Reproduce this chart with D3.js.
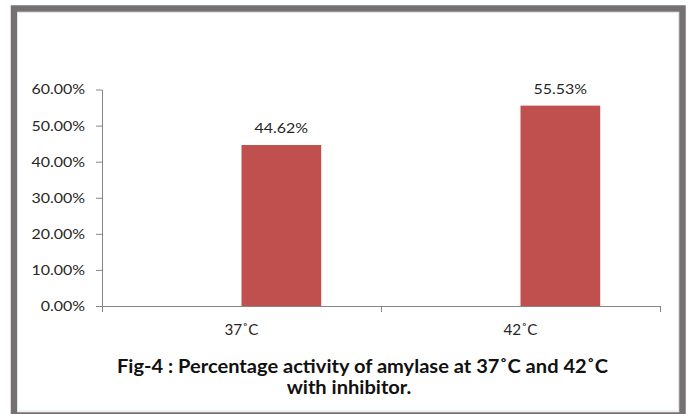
<!DOCTYPE html>
<html>
<head>
<meta charset="utf-8">
<script src="https://cdn.jsdelivr.net/npm/d3@7"></script>
<style>
  html, body { margin: 0; padding: 0; background: #fff; }
  svg { display: block; }
</style>
</head>
<body>
<svg id="chart" width="690" height="414"></svg>
<script>
// ---- data ----
const categories = ["37˚C", "42˚C"];
const seriesKeys = ["Series1", "Series2"]; // Series1 is empty in the original chart
const activity = [0.4462, 0.5553];          // Series2 values
const yTickValues = [0, 0.1, 0.2, 0.3, 0.4, 0.5, 0.6];
const titleLines = ["Fig-4 : Percentage activity of amylase at 37˚C and 42˚C", "with inhibitor."];

// ---- layout ----
const W = 690, H = 414;
const plot = { left: 102, right: 660, top: 89.5, bottom: 306 };
const FONT = "Lato, 'Open Sans', sans-serif";
const svg = d3.select("#chart");

// frame
svg.append("rect").attr("width", W).attr("height", H).attr("fill", "#fff");
svg.append("rect")
  .attr("x", 14).attr("y", 8.5).attr("width", 668.5).attr("height", 407)
  .attr("fill", "none").attr("stroke", "#767171").attr("stroke-width", 6.5);
svg.append("rect")
  .attr("x", 17.5).attr("y", 12.5).attr("width", 661).attr("height", 398.5)
  .attr("fill", "none").attr("stroke", "#dfe6ee").attr("stroke-width", 1);

// scales
const y = d3.scaleLinear().domain([0, 0.6]).range([plot.bottom, plot.top]);
const x0 = d3.scaleBand().domain(categories).range([plot.left, plot.right]).paddingInner(0).paddingOuter(0);
const x1 = d3.scaleBand().domain(seriesKeys).range([0, x0.bandwidth()]).paddingInner(0).paddingOuter(0.75);
const xEdge = d3.scaleLinear().domain([0, categories.length]).range([plot.left, plot.right]);

// helper: stretch text horizontally to mimic the original font metrics
function stretch(sel, k) {
  sel.each(function () {
    const len = this.getComputedTextLength();
    d3.select(this).attr("textLength", len * k).attr("lengthAdjust", "spacingAndGlyphs");
  });
}

// bars
svg.append("g").selectAll("rect")
  .data(categories.map((c, i) => ({ c, v: activity[i] })))
  .join("rect")
  .attr("x", d => x0(d.c) + x1("Series2"))
  .attr("width", x1.bandwidth())
  .attr("y", d => y(d.v))
  .attr("height", d => y(0) - y(d.v))
  .attr("fill", "#C0504D");

// y axis
const yAxis = svg.append("g")
  .attr("transform", `translate(${plot.left},0)`)
  .call(d3.axisLeft(y).tickValues(yTickValues).tickFormat(d3.format(".2%")).tickSize(6).tickSizeOuter(0).tickPadding(11));
yAxis.selectAll("path, line").attr("stroke", "#868686");
yAxis.selectAll("text")
  .attr("font-family", FONT).attr("font-size", 14).attr("fill", "#262626");
stretch(yAxis.selectAll("text"), 1.14);

// x axis
const xAxis = svg.append("g")
  .attr("transform", `translate(0,${plot.bottom})`)
  .call(d3.axisBottom(xEdge).tickValues(d3.range(categories.length + 1)).tickFormat("").tickSize(6).tickSizeOuter(0));
xAxis.selectAll("path, line").attr("stroke", "#868686");

// category labels
const catLabels = svg.append("g").selectAll("text")
  .data(categories).join("text")
  .attr("x", d => x0(d) + x0.bandwidth() / 2)
  .attr("y", plot.bottom + 29)
  .attr("text-anchor", "middle")
  .attr("font-family", FONT).attr("font-size", 14.5).attr("fill", "#262626")
  .text(d => d);
stretch(catLabels, 1.05);

// data labels
const dataLabels = svg.append("g").selectAll("text")
  .data(categories.map((c, i) => ({ c, v: activity[i] })))
  .join("text")
  .attr("x", d => x0(d.c) + x1("Series2") + x1.bandwidth() / 2)
  .attr("y", d => y(d.v) - 11.5)
  .attr("text-anchor", "middle")
  .attr("font-family", FONT).attr("font-size", 14).attr("fill", "#262626")
  .text(d => d3.format(".2%")(d.v));
stretch(dataLabels, 1.14);

// title
const title = svg.append("g").selectAll("text")
  .data(titleLines).join("text")
  .attr("x", (d, i) => i === 0 ? 362.5 : 349)
  .attr("y", (d, i) => i === 0 ? 372.5 : 393.5)
  .attr("text-anchor", "middle")
  .attr("font-family", FONT).attr("font-size", 18).attr("font-weight", "bold").attr("fill", "#111")
  .text(d => d);
stretch(title, 1.115);
</script>
</body>
</html>
